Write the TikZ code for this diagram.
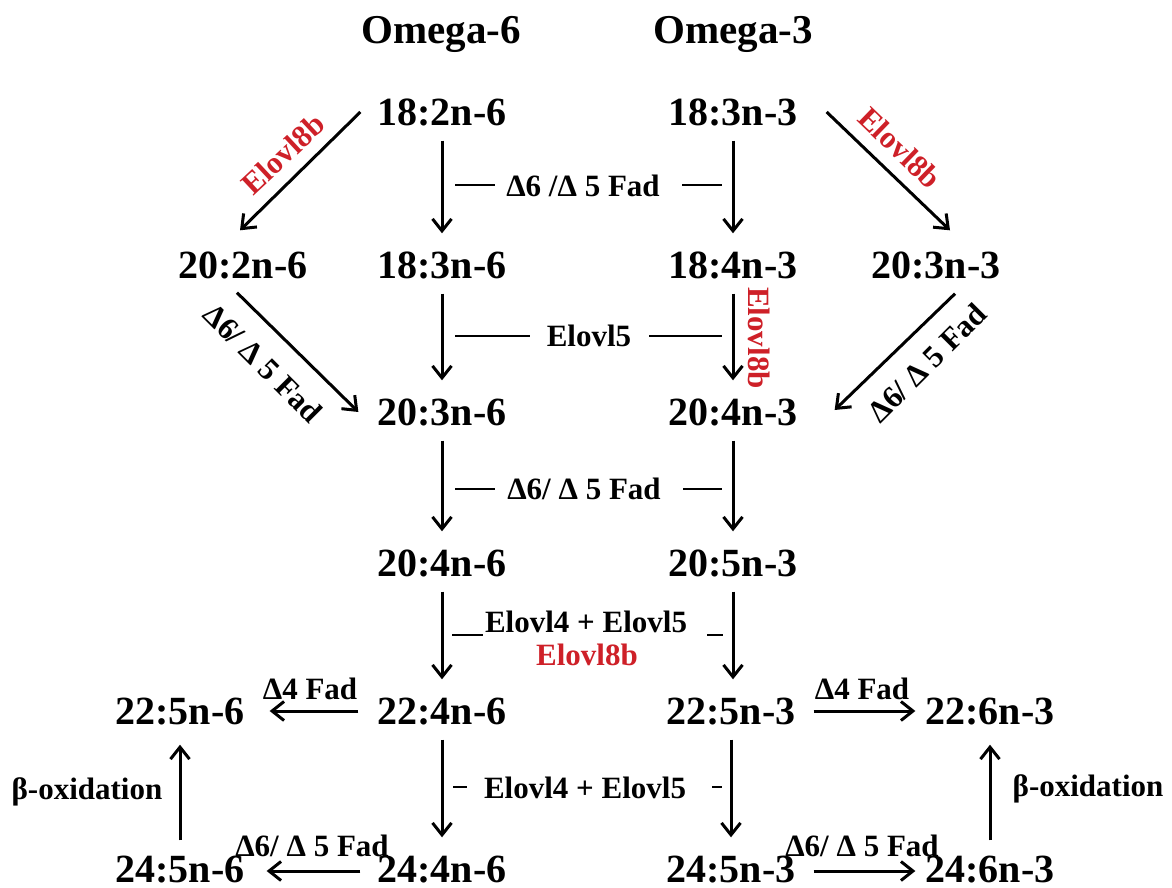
\documentclass[tikz,border=0pt]{standalone}
\usepackage{fontspec}
\setmainfont{Liberation Serif}
\usetikzlibrary{arrows.meta}
\definecolor{ered}{RGB}{206,32,40}
\begin{document}
\begin{tikzpicture}[x=1pt,y=-1pt,
  fa/.style={font=\fontsize{40}{40}\selectfont\bfseries, inner sep=0pt, text height=27pt, text depth=0pt},
  lab/.style={font=\fontsize{31}{31}\selectfont\bfseries, inner sep=0pt},
  rlab/.style={lab, text=ered},
  arr/.style={line width=3pt, -{Straight Barb[length=12pt,width=19pt]}},
  tickline/.style={line width=2.6pt},
]
\useasboundingbox (0,0) rectangle (1172,888);
% titles
\node[fa, font=\fontsize{41}{41}\selectfont\bfseries] (t6) at (441,30) {Omega-6};
\node[fa, font=\fontsize{41}{41}\selectfont\bfseries] (t3) at (733,30) {Omega-3};
% fatty acids
\node[fa] (a1) at (442,112) {18:2n-6};
\node[fa] (b1) at (733,112) {18:3n-3};
\node[fa] (a0) at (243,265) {20:2n-6};
\node[fa] (a2) at (442,265) {18:3n-6};
\node[fa] (b2) at (733,265) {18:4n-3};
\node[fa] (b0) at (936,265) {20:3n-3};
\node[fa] (a3) at (442,412) {20:3n-6};
\node[fa] (b3) at (733,412) {20:4n-3};
\node[fa] (a4) at (442,563) {20:4n-6};
\node[fa] (b4) at (733,563) {20:5n-3};
\node[fa] (c5) at (180,711) {22:5n-6};
\node[fa] (a5) at (442,711) {22:4n-6};
\node[fa] (b5) at (731,711) {22:5n-3};
\node[fa] (d5) at (990,711) {22:6n-3};
\node[fa] (c6) at (180,869) {24:5n-6};
\node[fa] (a6) at (442,869) {24:4n-6};
\node[fa] (b6) at (731,869) {24:5n-3};
\node[fa] (d6) at (990,869) {24:6n-3};
% vertical arrows
\foreach \u/\v in {a1/a2,b1/b2,a2/a3,b2/b3,a3/a4,b3/b4,a4/a5,b4/b5,a5/a6,b5/b6}
  \draw[arr, shorten <=15pt, shorten >=18pt] (\u.south) -- (\u.south |- \v.north);
% diagonal arrows
\draw[arr] ([xshift=-17pt]a1.west) -- ([xshift=-3pt,yshift=21pt]a0.north);
\draw[arr] ([xshift=29pt]b1.east) -- ([xshift=14pt,yshift=21pt]b0.north);
\draw[arr] ([xshift=-6pt,yshift=-14pt]a0.south) -- ([xshift=-19pt]a3.west);
\draw[arr] ([xshift=19pt,yshift=-15pt]b0.south) -- ([xshift=37pt,yshift=2pt]b3.east);
% horizontal arrows
\draw[arr, shorten <=19pt, shorten >=25pt] (a5.west) -- (c5.east);
\draw[arr, shorten <=17pt, shorten >=22pt] ([yshift=-2pt]a6.west) -- ([yshift=-2pt]c6.east);
\draw[arr, shorten <=18pt, shorten >=10pt] (b5.east) -- (d5.west);
\draw[arr, shorten <=18pt, shorten >=10pt] ([yshift=-2pt]b6.east) -- ([yshift=-2pt]d6.west);
% beta-oxidation arrows
\draw[arr, shorten <=15pt, shorten >=20pt] (c6.north) -- (c5.south);
\draw[arr, shorten <=15pt, shorten >=20pt] (d6.north) -- (d5.south);
% enzyme labels (centre column)
\node[lab] (l1) at (583,186) {Δ6 /Δ 5 Fad};
\node[lab] (l2) at (589,336) {Elovl5};
\node[lab] (l3) at (584,489) {Δ6/ Δ 5 Fad};
\node[lab] (l4) at (586,622) {Elovl4 + Elovl5};
\node[rlab] (l4r) at (587,655) {Elovl8b};
\node[lab] (l5) at (585,788) {Elovl4 + Elovl5};
% tick lines
\draw[tickline] (455,185) -- (495,185);
\draw[tickline] (682,185) -- (722,185);
\draw[tickline] (455,336) -- (530,336);
\draw[tickline] (649,336) -- (722,336);
\draw[tickline] (455,489) -- (495,489);
\draw[tickline] (683,489) -- (722,489);
\draw[tickline] (452,635) -- (483,635);
\draw[tickline] (707,635) -- (723,635);
\draw[tickline] (453,787) -- (467,787);
\draw[tickline] (712,787) -- (722,787);
% side labels
\node[lab] (l6) at (310,689) {Δ4 Fad};
\node[lab] (l7) at (312,846) {Δ6/ Δ 5 Fad};
\node[lab] (l8) at (862,689) {Δ4 Fad};
\node[lab] (l9) at (862,846) {Δ6/ Δ 5 Fad};
\node[lab] (l10) at (87,792) {β-oxidation};
\node[lab] (l11) at (1088,789) {β-oxidation};
% rotated labels
\node[rlab, rotate=43] (r1) at (283,154) {Elovl8b};
\node[rlab, rotate=-44] (r2) at (900,148) {Elovl8b};
\node[rlab, rotate=-90] (r3) at (759,338) {Elovl8b};
\node[lab, rotate=-45] (d1) at (263,363) {Δ6/ Δ 5 Fad};
\node[lab, rotate=45] (d2) at (927,363) {Δ6/ Δ 5 Fad};
\end{tikzpicture}
\end{document}
